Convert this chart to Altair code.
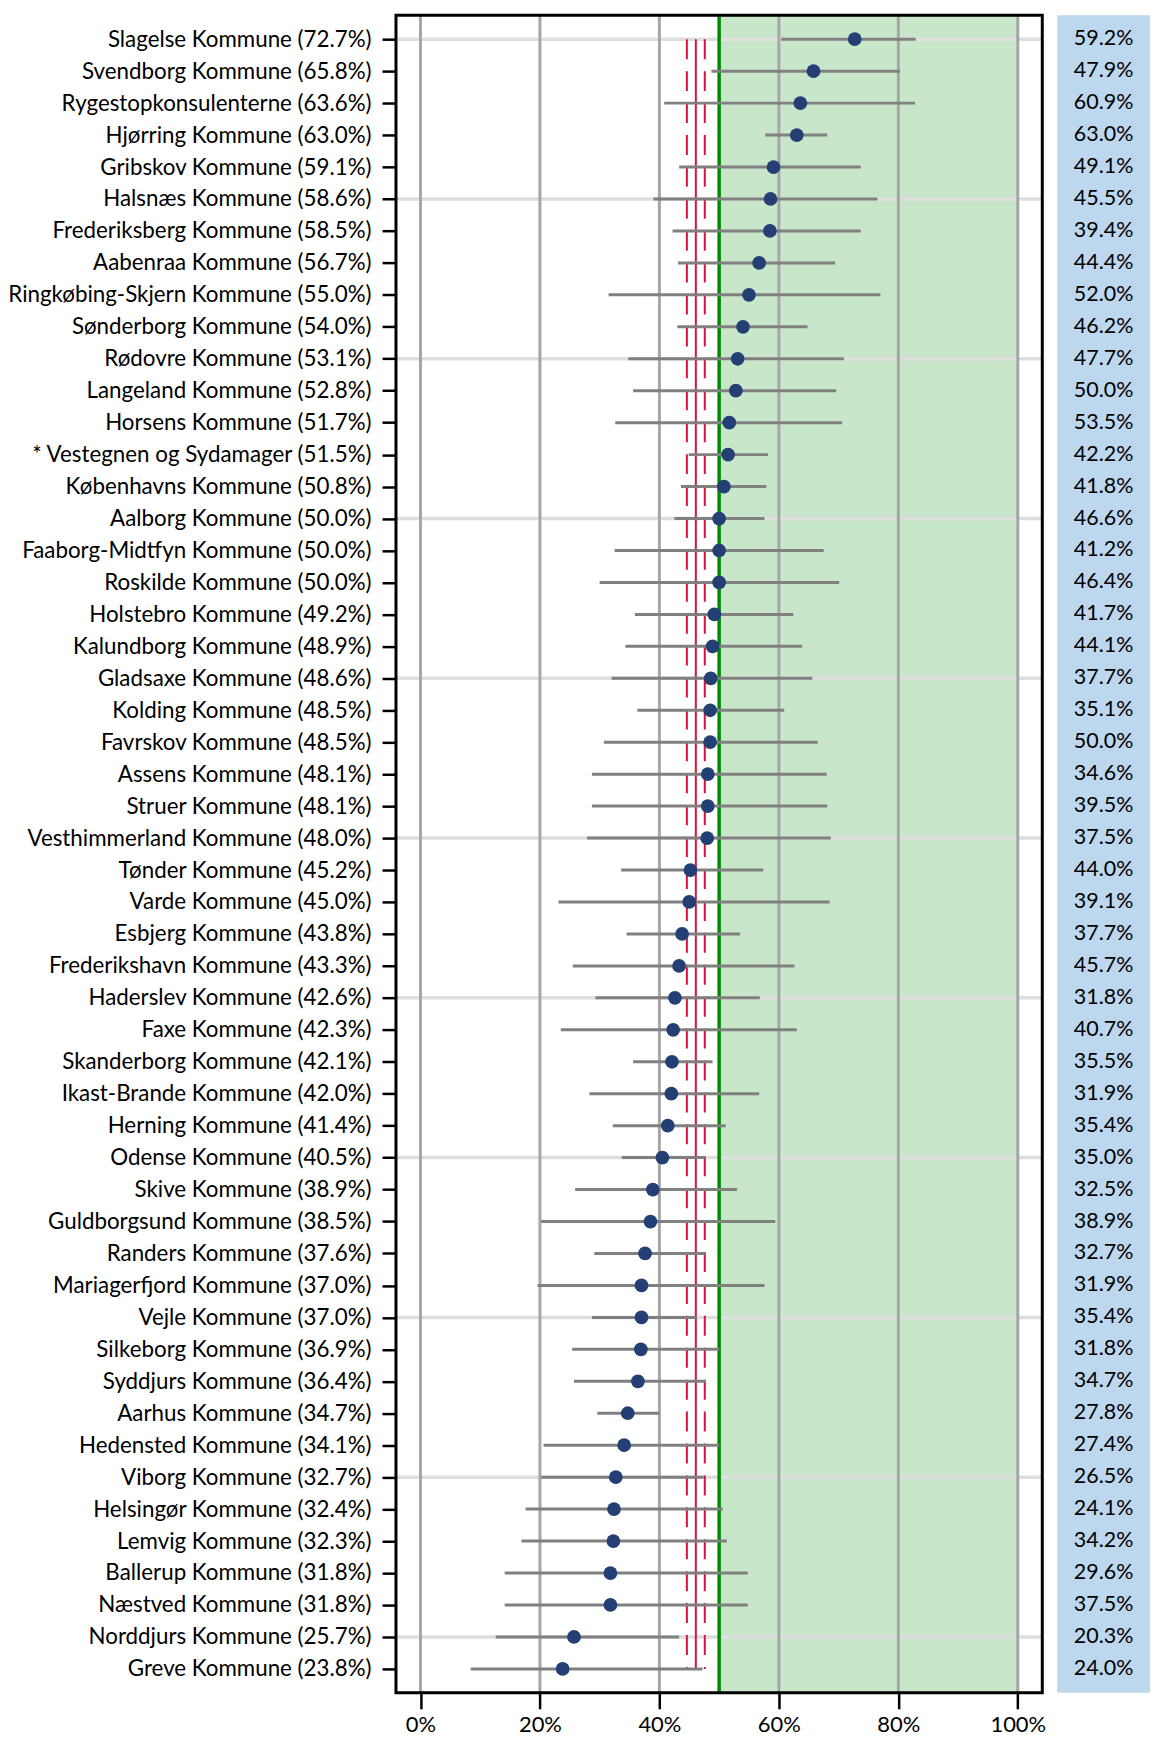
import altair as alt
import pandas as pd

names = [
    "Slagelse Kommune", "Svendborg Kommune", "Rygestopkonsulenterne", "Hjørring Kommune",
    "Gribskov Kommune", "Halsnæs Kommune", "Frederiksberg Kommune", "Aabenraa Kommune",
    "Ringkøbing-Skjern Kommune", "Sønderborg Kommune", "Rødovre Kommune", "Langeland Kommune",
    "Horsens Kommune", "* Vestegnen og Sydamager", "Københavns Kommune", "Aalborg Kommune",
    "Faaborg-Midtfyn Kommune", "Roskilde Kommune", "Holstebro Kommune", "Kalundborg Kommune",
    "Gladsaxe Kommune", "Kolding Kommune", "Favrskov Kommune", "Assens Kommune",
    "Struer Kommune", "Vesthimmerland Kommune", "Tønder Kommune", "Varde Kommune",
    "Esbjerg Kommune", "Frederikshavn Kommune", "Haderslev Kommune", "Faxe Kommune",
    "Skanderborg Kommune", "Ikast-Brande Kommune", "Herning Kommune", "Odense Kommune",
    "Skive Kommune", "Guldborgsund Kommune", "Randers Kommune", "Mariagerfjord Kommune",
    "Vejle Kommune", "Silkeborg Kommune", "Syddjurs Kommune", "Aarhus Kommune",
    "Hedensted Kommune", "Viborg Kommune", "Helsingør Kommune", "Lemvig Kommune",
    "Ballerup Kommune", "Næstved Kommune", "Norddjurs Kommune", "Greve Kommune",
]
rates = [72.7, 65.8, 63.6, 63.0, 59.1, 58.6, 58.5, 56.7, 55.0, 54.0, 53.1, 52.8, 51.7,
         51.5, 50.8, 50.0, 50.0, 50.0, 49.2, 48.9, 48.6, 48.5, 48.5, 48.1, 48.1, 48.0,
         45.2, 45.0, 43.8, 43.3, 42.6, 42.3, 42.1, 42.0, 41.4, 40.5, 38.9, 38.5, 37.6,
         37.0, 37.0, 36.9, 36.4, 34.7, 34.1, 32.7, 32.4, 32.3, 31.8, 31.8, 25.7, 23.8]
ci_low = [60.4, 48.7, 40.8, 57.7, 43.3, 39.0, 42.2, 43.1, 31.5, 43.0, 34.8, 35.6, 32.6,
          44.9, 43.6, 42.5, 32.5, 30.0, 35.9, 34.3, 32.0, 36.3, 30.7, 28.7, 28.7, 27.9,
          33.6, 23.1, 34.5, 25.5, 29.3, 23.5, 35.6, 28.3, 32.2, 33.7, 25.9, 20.2, 29.1,
          19.6, 28.7, 25.4, 25.7, 29.6, 20.6, 20.2, 17.6, 16.9, 14.1, 14.1, 12.6, 8.4]
ci_high = [82.9, 80.3, 82.8, 68.1, 73.7, 76.5, 73.7, 69.4, 77.0, 64.8, 70.9, 69.6, 70.6,
           58.2, 57.9, 57.6, 67.5, 70.1, 62.4, 63.9, 65.6, 60.9, 66.5, 68.0, 68.1, 68.7,
           57.4, 68.5, 53.5, 62.6, 56.8, 63.0, 48.9, 56.7, 51.1, 47.6, 53.0, 59.4, 47.6,
           57.6, 46.3, 50.0, 47.8, 40.0, 50.0, 47.4, 50.6, 51.3, 54.8, 54.8, 43.3, 47.2]
right_values = [59.2, 47.9, 60.9, 63.0, 49.1, 45.5, 39.4, 44.4, 52.0, 46.2, 47.7, 50.0,
                53.5, 42.2, 41.8, 46.6, 41.2, 46.4, 41.7, 44.1, 37.7, 35.1, 50.0, 34.6,
                39.5, 37.5, 44.0, 39.1, 37.7, 45.7, 31.8, 40.7, 35.5, 31.9, 35.4, 35.0,
                32.5, 38.9, 32.7, 31.9, 35.4, 31.8, 34.7, 27.8, 27.4, 26.5, 24.1, 34.2,
                29.6, 37.5, 20.3, 24.0]
x_ticks = [0, 0.2, 0.4, 0.6, 0.8, 1.0]
target = 0.5
ref_mean = 0.461
ref_low = 0.446
ref_high = 0.476
x_domain = [-0.041, 1.041]

labels = [f"{n} ({r:.1f}%)" for n, r in zip(names, rates)]
df = pd.DataFrame({
    "label": labels,
    "rate": [r / 100 for r in rates],
    "low": [v / 100 for v in ci_low],
    "high": [v / 100 for v in ci_high],
    "right": [f"{v:.1f}%" for v in right_values],
    "band": [i % 5 == 0 for i in range(len(names))],
})

FONT = "Lato"
W, H = 648, 1682

xs = alt.Scale(domain=x_domain, nice=False, zero=False)
xaxis = alt.Axis(values=x_ticks, format=".0%", title=None, grid=False, domain=False,
                 tickColor="black", tickWidth=2.5, tickSize=16, labelPadding=6,
                 labelFont=FONT, labelFontSize=22, labelColor="black")
ys = alt.Scale(type="point", padding=0.75, domain=labels)
yaxis = alt.Axis(title=None, domain=False, tickColor="black", tickWidth=2.5, tickSize=14,
                 labelPadding=11, labelFont=FONT, labelFontSize=22.4, labelColor="black",
                 labelLimit=600)
Y = alt.Y("label:N", scale=ys, axis=yaxis)

def X(field):
    return alt.X(field, type="quantitative", scale=xs, axis=xaxis)

green = alt.Chart(pd.DataFrame({"a": [target], "b": [1.0]})).mark_rect(
    color="#c8e6c9").encode(x=X("a"), x2="b:Q")
rows = alt.Chart(df).transform_filter("datum.band").mark_rule(
    color="#dedede", strokeWidth=3.5).encode(y=Y)
grid = alt.Chart(pd.DataFrame({"t": x_ticks})).mark_rule(
    color="#a6a6a6", strokeWidth=3).encode(x=X("t"))
gline = alt.Chart(pd.DataFrame({"a": [target]})).mark_rule(
    color="#008a00", strokeWidth=3.5).encode(x=X("a"))
ref = pd.DataFrame({"x": [ref_low, ref_mean, ref_high], "kind": ["d", "s", "d"],
                    "label": labels[0], "label2": labels[-1]})
red_s = alt.Chart(ref).transform_filter("datum.kind == 's'").mark_rule(
    color="#d6153f", strokeWidth=2).encode(x=X("x"), y=Y, y2="label2:N")
red_d = alt.Chart(ref).transform_filter("datum.kind == 'd'").mark_rule(
    color="#d6153f", strokeWidth=2, strokeDash=[20, 12]).encode(x=X("x"), y=Y, y2="label2:N")
bars = alt.Chart(df).mark_rule(color="#808080", strokeWidth=3).encode(
    x=X("low"), x2="high:Q", y=Y)
dots = alt.Chart(df).mark_circle(size=190, color="#243f73", opacity=1).encode(
    x=X("rate"), y=Y)
frame = alt.Chart(pd.DataFrame({"a": [x_domain[0]], "b": [x_domain[1]]})).mark_rect(
    filled=False, stroke="black", strokeWidth=3).encode(x=X("a"), x2="b:Q")

main = alt.layer(green, rows, grid, gline, red_s, red_d, bars, dots, frame)

bx = alt.Scale(domain=[0, 1], range=[663, 756])
blue_rect = alt.Chart(pd.DataFrame({"a": [0], "b": [1]})).mark_rect(
    color="#bdd7ee").encode(x=alt.X("a:Q", scale=bx, axis=None), x2="b:Q")
blue_text = alt.Chart(df).mark_text(
    font=FONT, fontSize=21.5, color="black", align="center", baseline="middle").encode(
    x=alt.XDatum(0.5, type="quantitative", scale=bx, axis=None), y=Y, text="right:N")
right = alt.layer(blue_rect, blue_text)

chart = alt.layer(main, right).resolve_scale(x="independent").properties(
    width=W, height=H,
    autosize=alt.AutoSizeParams(type="none"),
    padding={"left": 389, "top": 5, "right": 108, "bottom": 44},
).configure_view(strokeWidth=0)

chart.save("out.html", embed_options={"renderer": "svg", "actions": False})
